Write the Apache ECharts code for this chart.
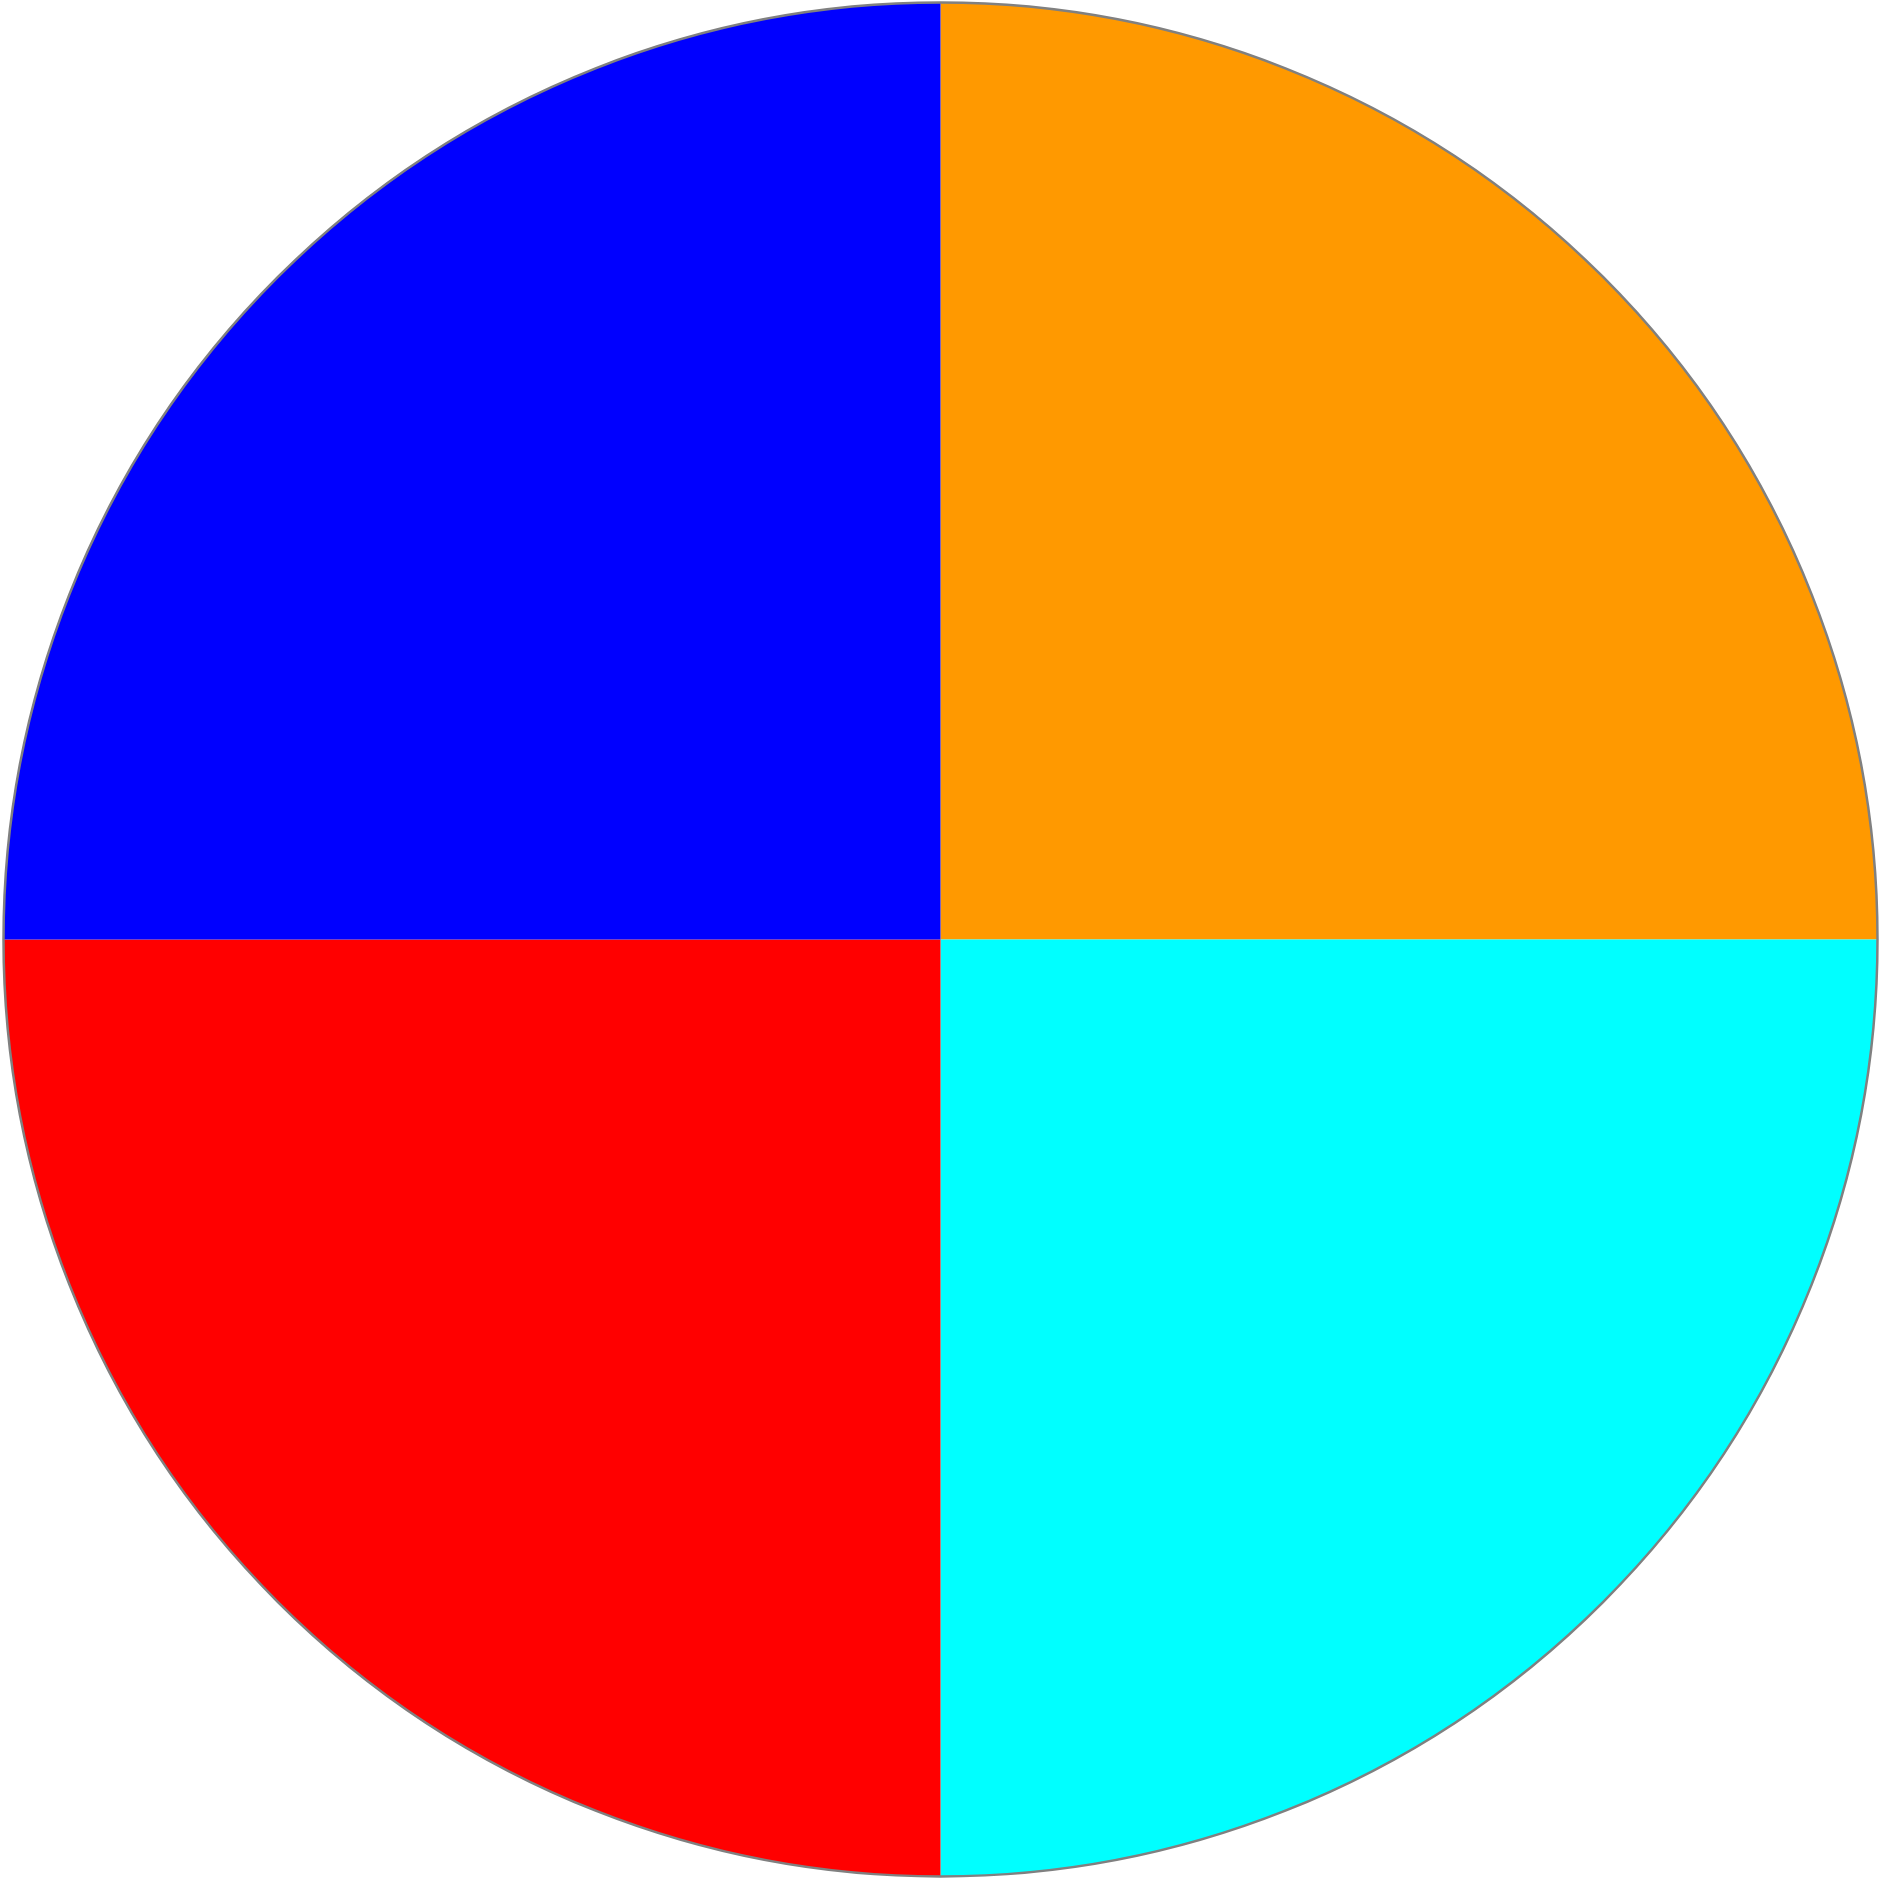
<!DOCTYPE html>
<html>
<head>
<meta charset="utf-8">
<script src="https://cdn.jsdelivr.net/npm/echarts@6/dist/echarts.min.js"></script>
<style>
html, body { margin: 0; padding: 0; background: #ffffff; }
#chart { width: 1881px; height: 1879px; }
</style>
</head>
<body>
<div id="chart"></div>
<script>
const categories = ['A', 'B', 'C', 'D'];
const values = [25, 25, 25, 25];
const colors = ['#ff9900', '#00ffff', '#ff0000', '#0000ff'];

const chart = echarts.init(document.getElementById('chart'), null, { renderer: 'canvas' });
chart.setOption({
  animation: false,
  backgroundColor: '#ffffff',
  series: [{
    type: 'pie',
    center: ['50%', '50%'],
    radius: 937,
    startAngle: 90,
    clockwise: true,
    label: { show: false },
    labelLine: { show: false },
    emphasis: { disabled: true },
    itemStyle: { borderColor: '#808080', borderWidth: 0 },
    data: categories.map((c, i) => ({ name: c, value: values[i], itemStyle: { color: colors[i] } }))
  }, {
    type: 'pie',
    center: ['50%', '50%'],
    radius: 937,
    silent: true,
    label: { show: false },
    labelLine: { show: false },
    itemStyle: { color: 'transparent', borderColor: '#808080', borderWidth: 2.5 },
    data: [{ name: 'outline', value: 1 }]
  }]
});
</script>
</body>
</html>
